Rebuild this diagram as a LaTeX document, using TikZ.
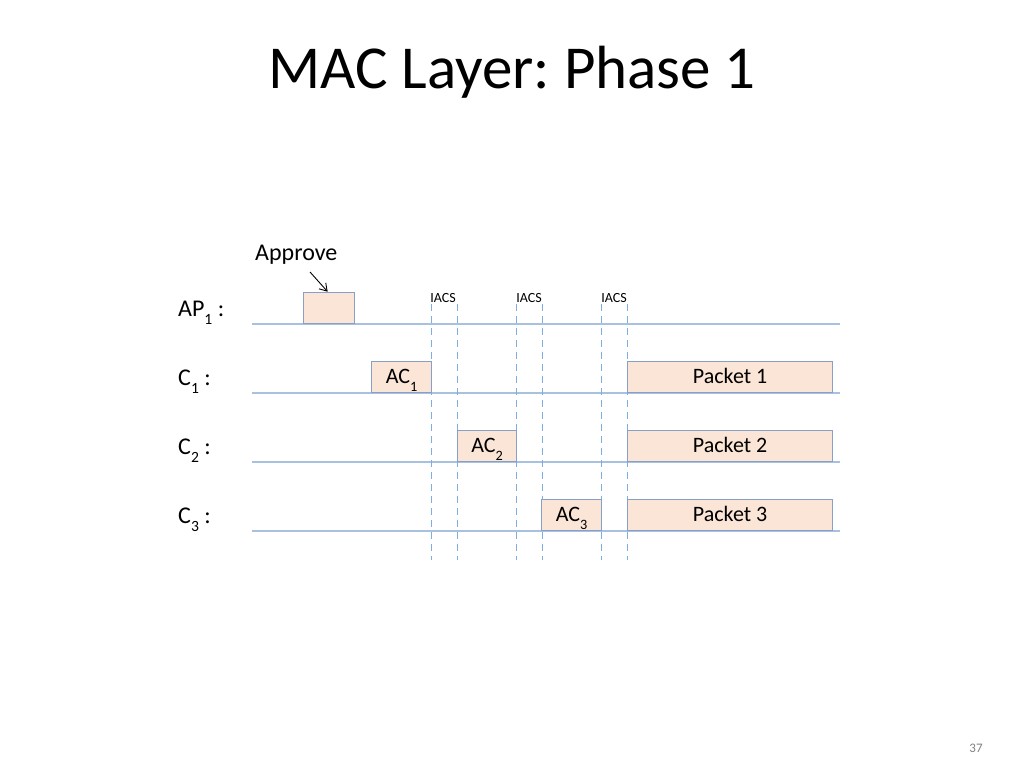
\documentclass[tikz,border=0pt]{standalone}
\usepackage{fontspec}
\setmainfont{Carlito}
\usepackage{tikz}
\usetikzlibrary{positioning,arrows.meta}
\frenchspacing
\definecolor{slotfill}{HTML}{FBE5D6}
\definecolor{slotedge}{HTML}{889FC8}
\definecolor{timeline}{HTML}{A9C1E0}
\definecolor{gapline}{HTML}{7FAEE0}
\newcommand\lowsub[1]{\raisebox{-0.75ex}{\scalebox{0.65}{#1}}}
\tikzset{
	slot/.style={draw=slotedge, fill=slotfill, line width=1.3pt, inner sep=0pt, anchor=south west, minimum height=31, text height=14pt, text depth=0pt, font=\fontsize{22}{24}\selectfont},
	rowlabel/.style={anchor=base west, inner sep=0pt, font=\fontsize{24}{26}\selectfont},
	tline/.style={draw=timeline, line width=2pt},
	gap/.style={draw=gapline, line width=1pt, dash pattern=on 7pt off 5pt},
	gaplabel/.style={anchor=base, inner sep=0pt, font=\fontsize{14}{16}\selectfont},
	pointer/.style={-{Straight Barb[length=7pt,width=9pt]}, line width=0.9pt}
}

\begin{document}
\begin{tikzpicture}[x=1pt,y=-1pt]
	\useasboundingbox (0,0) rectangle (1024,768);
	\node[anchor=base, inner sep=0pt, font=\fontsize{61}{72}\selectfont] (title) at (512,88) {MAC Layer: Phase 1};
	% time lines
	\foreach \name/\y/\lab in {ap/324/AP\lowsub{1} :, cone/393/C\lowsub{1} :, ctwo/462/C\lowsub{2} :, cthree/531/C\lowsub{3} :}{
		\node[rowlabel] (lab-\name) at (178,\y-8) {\lab};
		\coordinate (\name-start) at (252,\y);
		\coordinate (\name-end) at (840,\y);
		\draw[tline] (\name-start) -- (\name-end);
	}
	% interval lines
	\foreach \x in {431,457,516,542,601,627}{
		\coordinate (gtop\x) at (\x,304);
		\coordinate (gbot\x) at (\x,560);
		\draw[gap] (gtop\x) -- (gbot\x);
	}
	\node[gaplabel] (iacsone) at (443,302) {IACS};
	\node[gaplabel] (iacstwo) at (529,302) {IACS};
	\node[gaplabel] (iacsthree) at (614,302) {IACS};
	% slots
	\node[slot, minimum width=51] (approve) at (303,324) {};
	\node[slot, minimum width=60] (acone) at (371,393) {AC\lowsub{1}};
	\node[slot, minimum width=59] (actwo) at (457,462) {AC\lowsub{2}};
	\node[slot, minimum width=60] (acthree) at (541,531) {AC\lowsub{3}};
	\node[slot, minimum width=205] (pktone) at (627,393) {Packet 1};
	\node[slot, minimum width=205] (pkttwo) at (627,462) {Packet 2};
	\node[slot, minimum width=205] (pktthree) at (627,531) {Packet 3};
	% approve
	\node[anchor=base west, inner sep=0pt, font=\fontsize{24}{26}\selectfont] (approvelab) at (255,260) {Approve};
	\coordinate (arrowtail) at (310,272);
	\draw[pointer] (arrowtail) -- ([xshift=-1.5pt]approve.north);
	\node[font=\fontsize{13}{15}\selectfont, text=gray] (pagenum) at (976,748) {37};
\end{tikzpicture}
\end{document}
